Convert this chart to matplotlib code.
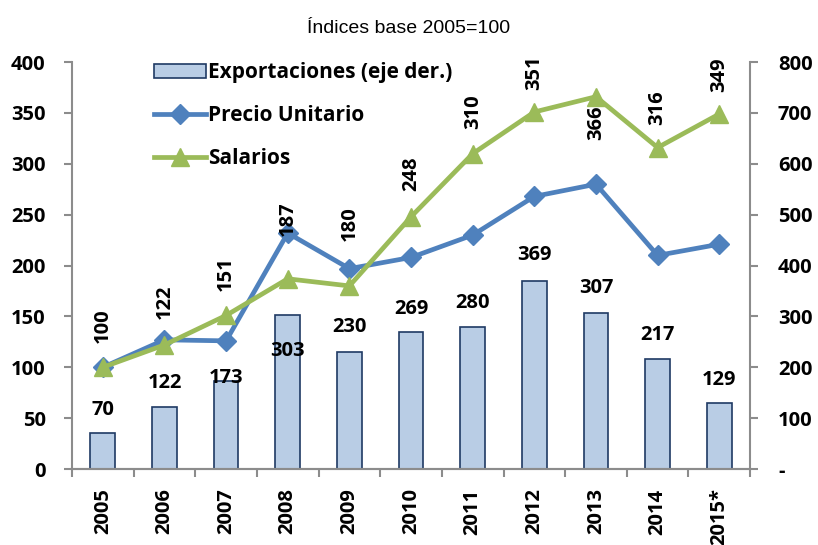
import matplotlib
matplotlib.use("Agg")
import matplotlib.pyplot as plt
from matplotlib.patches import Patch
from matplotlib.lines import Line2D

years = ["2005", "2006", "2007", "2008", "2009", "2010", "2011", "2012", "2013", "2014", "2015*"]
exportaciones = [70, 122, 173, 303, 230, 269, 280, 369, 307, 217, 129]
precio_unitario = [100, 127, 126, 232, 197, 208, 230, 268, 280, 210, 221]
salarios = [100, 122, 151, 187, 180, 248, 310, 351, 366, 316, 349]

left_ticks = [0, 50, 100, 150, 200, 250, 300, 350, 400]
right_ticks = [0, 100, 200, 300, 400, 500, 600, 700, 800]
right_ticklabels = ["-", "100", "200", "300", "400", "500", "600", "700", "800"]

FONT = "Open Sans"
FS = 14.5
BAR_FACE = "#B9CDE5"
BAR_EDGE = "#1F3A64"
BLUE = "#4F81BD"
GREEN = "#9BBB59"
GRAY = "#8C8C8C"

# label offsets in points (style only)
bar_label_off = [17, 17, 2, -26, 18, 17, 17, 19, 18, 17, 17]
sal_label_off = [30, 31, 30, 43, 45, 31, 30, 28, -19, 29, 28]

fig = plt.figure(figsize=(8.18, 5.45), dpi=100)
ax = fig.add_axes([0.088, 0.1394, 0.829, 0.7466])
ax2 = ax.twinx()

x = list(range(len(years)))

ax2.bar(x, exportaciones, width=0.4, color=BAR_FACE, edgecolor=BAR_EDGE, linewidth=1.2, zorder=1)
for xi, v, off in zip(x, exportaciones, bar_label_off):
    ax2.annotate(str(v), (xi, v), xytext=(0, off), textcoords="offset points",
                 ha="center", va="center", fontsize=FS, fontweight="bold", family=FONT)

ax.set_zorder(ax2.get_zorder() + 1)
ax.patch.set_visible(False)

ax.plot(x, precio_unitario, color=BLUE, lw=3.4, marker="D", markersize=10, zorder=3)
ax.plot(x, salarios, color=GREEN, lw=3.4, marker="^", markersize=13, zorder=4)
for xi, v, off in zip(x, salarios, sal_label_off):
    ax.annotate(str(v), (xi, v), xytext=(0, off), textcoords="offset points",
                ha="center", va="center", rotation=90, fontsize=FS, fontweight="bold", family=FONT)

ax.set_xlim(-0.5, len(years) - 0.5)
ax.set_ylim(0, 400)
ax2.set_ylim(0, 800)
ax.set_yticks(left_ticks)
ax.set_yticklabels([str(t) for t in left_ticks], fontsize=FS, fontweight="bold", family=FONT)
ax2.set_yticks(right_ticks)
ax2.set_yticklabels(right_ticklabels, fontsize=FS, fontweight="bold", family=FONT)

ax.set_xticks([i - 0.5 for i in range(len(years) + 1)])
ax.set_xticklabels([])
ax.set_xticks(x, minor=True)
ax.set_xticklabels(years, minor=True, rotation=90, fontsize=FS, fontweight="bold", family=FONT)
ax.tick_params(axis="x", which="minor", length=0, pad=14)
ax.tick_params(axis="x", which="major", length=6, color=GRAY, width=1.5)
ax.tick_params(axis="y", length=6, color=GRAY, width=1.5, pad=13)
ax2.tick_params(axis="y", length=6, color=GRAY, width=1.5, pad=14)
ax2.tick_params(axis="x", length=0)

for a in (ax, ax2):
    a.spines["top"].set_visible(False)
    for s in ("left", "right", "bottom"):
        a.spines[s].set_color(GRAY)
        a.spines[s].set_linewidth(1.5)
ax.spines["right"].set_visible(False)
ax2.spines["left"].set_visible(False)

handles = [
    Patch(facecolor=BAR_FACE, edgecolor=BAR_EDGE, linewidth=1.2),
    Line2D([], [], color=BLUE, lw=3.4, marker="D", markersize=10),
    Line2D([], [], color=GREEN, lw=3.4, marker="^", markersize=13),
]
labels = ["Exportaciones (eje der.)", "Precio Unitario", "Salarios"]
ax.legend(handles, labels, loc="upper left", bbox_to_anchor=(0.108, 1.02),
          frameon=False, prop={"family": FONT, "weight": "bold", "size": 15},
          handlelength=2.5, handletextpad=0.1, labelspacing=1.05, borderaxespad=0)

fig.text(0.5, 0.947, "Índices base 2005=100", ha="center", va="center",
         fontsize=14, family="Liberation Sans")

fig.savefig("out.png", dpi=100)
